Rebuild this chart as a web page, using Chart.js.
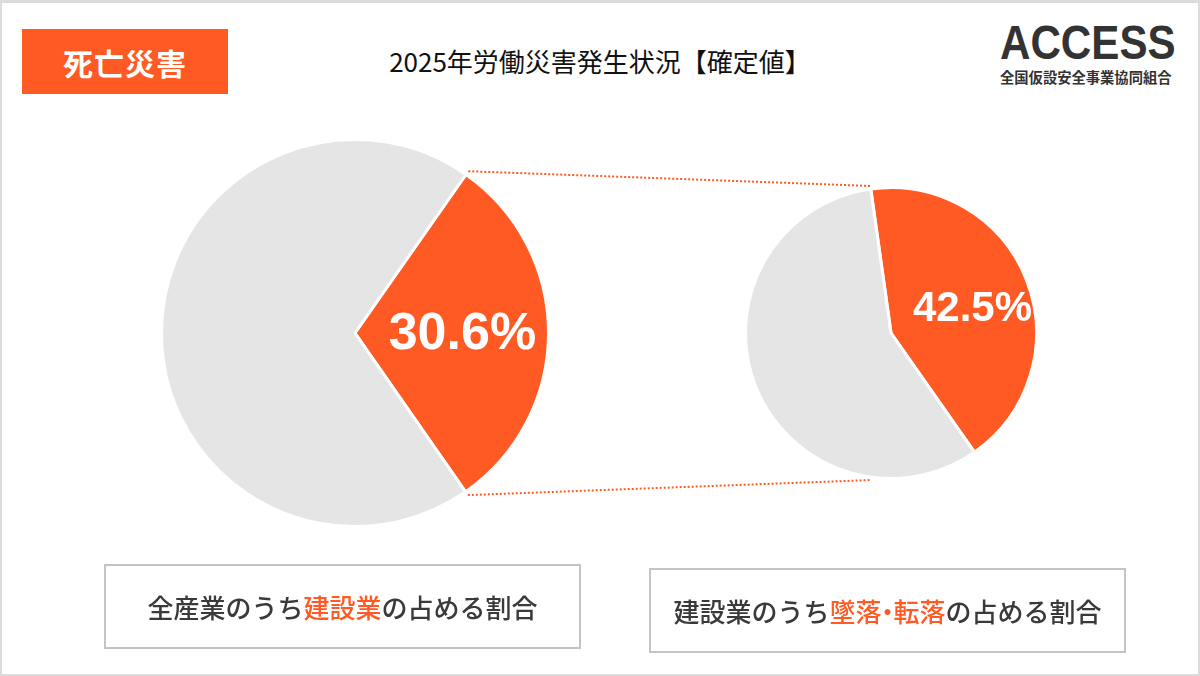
<!DOCTYPE html>
<html lang="ja">
<head>
<meta charset="utf-8">
<script src="https://cdn.jsdelivr.net/npm/chart.js@4.4.1/dist/chart.umd.min.js"></script>
<style>
  html, body { margin: 0; padding: 0; }
  body {
    width: 1200px; height: 676px; position: relative; overflow: hidden;
    background: #fff; font-family: "Noto Sans CJK JP", "Noto Sans", sans-serif;
  }
  .frame { position: absolute; left: 0; top: 0; width: 1200px; height: 676px;
    box-sizing: border-box; border: 3px solid #dcdcdc; border-width: 3px 2px 2px 2px; }
  .tag { position: absolute; left: 22px; top: 29px; width: 206px; height: 65px;
    background: #ff5a23; color: #fff; font-size: 30px; font-weight: 700;
    display: flex; align-items: center; justify-content: center; letter-spacing: 1px; }
  .title { position: absolute; left: 0; width: 1200px; top: 43px; text-align: center;
    font-size: 26px; color: #111; line-height: 36px; }
  .logo { position: absolute; left: 1000px; top: 18px; width: 178px; color: #333; }
  .logo .big { font-family: "Liberation Sans", Arial, sans-serif; font-weight: 700;
    font-size: 49px; line-height: 48px; transform: scaleX(0.86); transform-origin: left center;
    white-space: nowrap; letter-spacing: 0; }
  .logo .small { font-size: 14.3px; font-weight: 700; line-height: 18px; margin-top: 2px; white-space: nowrap; }
  .cap { position: absolute; box-sizing: border-box; border: 2px solid #c4c4c4;
    display: flex; align-items: center; justify-content: center;
    font-size: 26px; color: #3a3a3a; font-weight: 500; }
  .cap em { font-style: normal; color: #ff5a23; }
  .cap .dot { margin: 0 -7px; }
  canvas.pie { position: absolute; }
  #overlay { position: absolute; left: 0; top: 0; pointer-events: none; }
</style>
</head>
<body>
<div class="frame"></div>
<div class="tag">死亡災害</div>
<div class="title">2025年労働災害発生状況【確定値】</div>
<div class="logo"><div class="big">ACCESS</div><div class="small">全国仮設安全事業協同組合</div></div>

<canvas id="pieAll" class="pie" style="left:160px; top:138px;" width="390" height="390"></canvas>
<canvas id="pieConstr" class="pie" style="left:744px; top:186px;" width="294" height="294"></canvas>
<canvas id="overlay" width="1200" height="676"></canvas>

<div class="cap" style="left:104px; top:564px; width:477px; height:85px;">全産業のうち<em>建設業</em>の占める割合</div>
<div class="cap" style="left:649px; top:568px; width:477px; height:85px;">建設業のうち<em>墜落<span class="dot">・</span>転落</em>の占める割合</div>

<script>
/* ===== DATA ===== */
const allCategories = ["建設業", "その他の業種"];
const allShares = [30.6, 69.4];
const constrCategories = ["墜落・転落", "その他"];
const constrShares = [42.5, 57.5];

const ORANGE = "#ff5a23";
const GRAY = "#e5e5e5";

/* ===== PIE LABEL PLUGIN ===== */
const sliceLabel = {
  id: "sliceLabel",
  afterDatasetsDraw(chart, args, opts) {
    const arc = chart.getDatasetMeta(0).data[0];
    const r = arc.outerRadius;
    const ctx = chart.ctx;
    ctx.save();
    ctx.fillStyle = "#fff";
    ctx.font = "bold " + opts.size + "px 'Liberation Sans', Arial, sans-serif";
    ctx.textAlign = "center";
    ctx.textBaseline = "middle";
    const v = chart.data.datasets[0].data[0];
    ctx.fillText(v.toFixed(1) + "%", arc.x + opts.dx * r, arc.y + opts.dy * r);
    ctx.restore();
  },
};

function makePie(id, labels, values, rotation, label) {
  return new Chart(document.getElementById(id), {
    type: "pie",
    data: {
      labels,
      datasets: [{
        data: values,
        backgroundColor: [ORANGE, GRAY],
        borderColor: "#fff",
        borderWidth: 3,
        hoverOffset: 0,
      }],
    },
    options: {
      responsive: false,
      animation: false,
      rotation,
      layout: { padding: 0 },
      plugins: {
        legend: { display: false },
        tooltip: { enabled: false },
        sliceLabel: label,
      },
    },
    plugins: [sliceLabel],
  });
}

const leftChart = makePie("pieAll", allCategories, allShares, 35, { size: 52, dx: 0.555, dy: 0.01 });
const rightChart = makePie("pieConstr", constrCategories, constrShares, -8, { size: 42, dx: 0.56, dy: -0.16 });

/* ===== CONNECTOR LINES ===== */
function arcPoint(chart, canvasId, angle, extra) {
  const arc = chart.getDatasetMeta(0).data[0];
  const el = document.getElementById(canvasId);
  const r = arc.outerRadius + extra;
  return {
    x: el.offsetLeft + arc.x + Math.cos(angle) * r,
    y: el.offsetTop + arc.y + Math.sin(angle) * r,
  };
}

const lArc = leftChart.getDatasetMeta(0).data[0];
const rArc = rightChart.getDatasetMeta(0).data[0];
const p1 = arcPoint(leftChart, "pieAll", lArc.startAngle, 4);
const p2 = arcPoint(rightChart, "pieConstr", rArc.startAngle, 3);
const p3 = arcPoint(leftChart, "pieAll", lArc.endAngle, 4);
const p4 = arcPoint(rightChart, "pieConstr", -rArc.startAngle, 3);

const octx = document.getElementById("overlay").getContext("2d");
octx.strokeStyle = ORANGE;
octx.lineWidth = 2;
octx.setLineDash([2, 2]);
octx.beginPath();
octx.moveTo(p1.x, p1.y); octx.lineTo(p2.x, p2.y);
octx.moveTo(p3.x, p3.y); octx.lineTo(p4.x, p4.y);
octx.stroke();
</script>
</body>
</html>
